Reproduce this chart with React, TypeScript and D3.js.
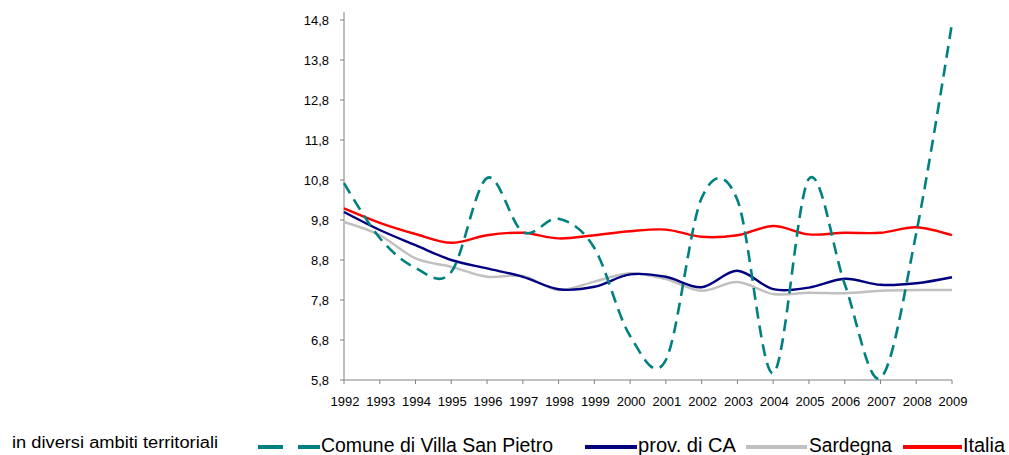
import React from "react";
import * as d3 from "d3";

const years = [1992, 1993, 1994, 1995, 1996, 1997, 1998, 1999, 2000, 2001, 2002, 2003, 2004, 2005, 2006, 2007, 2008, 2009];
const comune = [10.72, 9.35, 8.6, 8.5, 10.85, 9.5, 9.83, 9.1, 6.9, 6.3, 10.35, 10.3, 5.97, 10.83, 8.2, 5.85, 9.47, 14.72];
const provCA = [10.0, 9.55, 9.17, 8.8, 8.59, 8.38, 8.07, 8.13, 8.44, 8.38, 8.12, 8.53, 8.07, 8.11, 8.33, 8.18, 8.22, 8.37];
const sardegna = [9.75, 9.42, 8.84, 8.63, 8.38, 8.4, 8.05, 8.26, 8.47, 8.32, 8.03, 8.25, 7.95, 7.98, 7.97, 8.03, 8.05, 8.05];
const italia = [10.09, 9.73, 9.45, 9.23, 9.42, 9.48, 9.34, 9.42, 9.52, 9.56, 9.38, 9.42, 9.65, 9.44, 9.48, 9.48, 9.62, 9.42];
const yTicks = [5.8, 6.8, 7.8, 8.8, 9.8, 10.8, 11.8, 12.8, 13.8, 14.8];
const seriesNames = ["Comune di Villa San Pietro", "prov. di CA", "Sardegna", "Italia"];
const leftNote = "in diversi ambiti territoriali";

const W = 1009;
const H = 455;
const FONT = "'Liberation Sans', Arial, sans-serif";

export default function App() {
  const x = d3.scaleLinear().domain([1992, 2009]).range([344, 952]);
  const y = d3.scaleLinear().domain([5.8, 15.0]).range([380, 12]);
  const line = d3
    .line<number>()
    .x((_, i) => x(years[i]))
    .y((d) => y(d))
    .curve(d3.curveCardinal.tension(0));

  const series = [
    { name: seriesNames[0], values: comune, color: "#008080", dash: "12,7", w: 2.6 },
    { name: seriesNames[1], values: provCA, color: "#000080", dash: undefined, w: 2.4 },
    { name: seriesNames[2], values: sardegna, color: "#C0C0C0", dash: undefined, w: 2.4 },
    { name: seriesNames[3], values: italia, color: "#FF0000", dash: undefined, w: 2.4 },
  ];
  const drawOrder = [2, 1, 3, 0];

  const legend = [
    { x1: 258, x2: 320, tx: 321, tl: 232 },
    { x1: 585, x2: 637, tx: 638, tl: 98 },
    { x1: 746, x2: 807, tx: 809, tl: 83 },
    { x1: 903, x2: 962, tx: 963, tl: 42 },
  ];

  return (
    <svg
      width={W}
      height={H}
      style={{ position: "fixed", left: 0, top: 0, background: "#fff" }}
      fontFamily={FONT}
    >
      <rect x={0} y={0} width={W} height={H} fill="#fff" />
      <line x1={344} x2={344} y1={y(15.0)} y2={380} stroke="#808080" strokeWidth={1} />
      {yTicks.map((t) => (
        <g key={t}>
          <line x1={340} x2={344} y1={y(t)} y2={y(t)} stroke="#808080" />
          <text x={329} y={y(t)} dy="0.36em" textAnchor="end" fontSize={13} fill="#000">
            {d3.format(".1f")(t).replace(".", ",")}
          </text>
        </g>
      ))}
      <line x1={344} x2={952} y1={380} y2={380} stroke="#808080" />
      {years.map((yr) => (
        <g key={yr}>
          <line x1={x(yr)} x2={x(yr)} y1={380} y2={384} stroke="#808080" />
          <text x={x(yr) + 1} y={406} textAnchor="middle" fontSize={13} fill="#000">
            {yr}
          </text>
        </g>
      ))}
      {drawOrder.map((i) => {
        const s = series[i];
        return (
          <path
            key={s.name}
            d={line(s.values) || ""}
            fill="none"
            stroke={s.color}
            strokeWidth={s.w}
            strokeDasharray={s.dash}
          />
        );
      })}
      <text x={12} y={448} fontSize={16} textLength={206} lengthAdjust="spacingAndGlyphs" fill="#000">
        {leftNote}
      </text>
      {series.map((s, i) => (
        <g key={s.name}>
          <line
            x1={legend[i].x1}
            x2={legend[i].x2}
            y1={447}
            y2={447}
            stroke={s.color}
            strokeWidth={4}
            strokeDasharray={i === 0 ? "25,15" : undefined}
          />
          <text
            x={legend[i].tx}
            y={452}
            fontSize={20}
            textLength={legend[i].tl}
            lengthAdjust="spacingAndGlyphs"
            fill="#000"
          >
            {s.name}
          </text>
        </g>
      ))}
    </svg>
  );
}
